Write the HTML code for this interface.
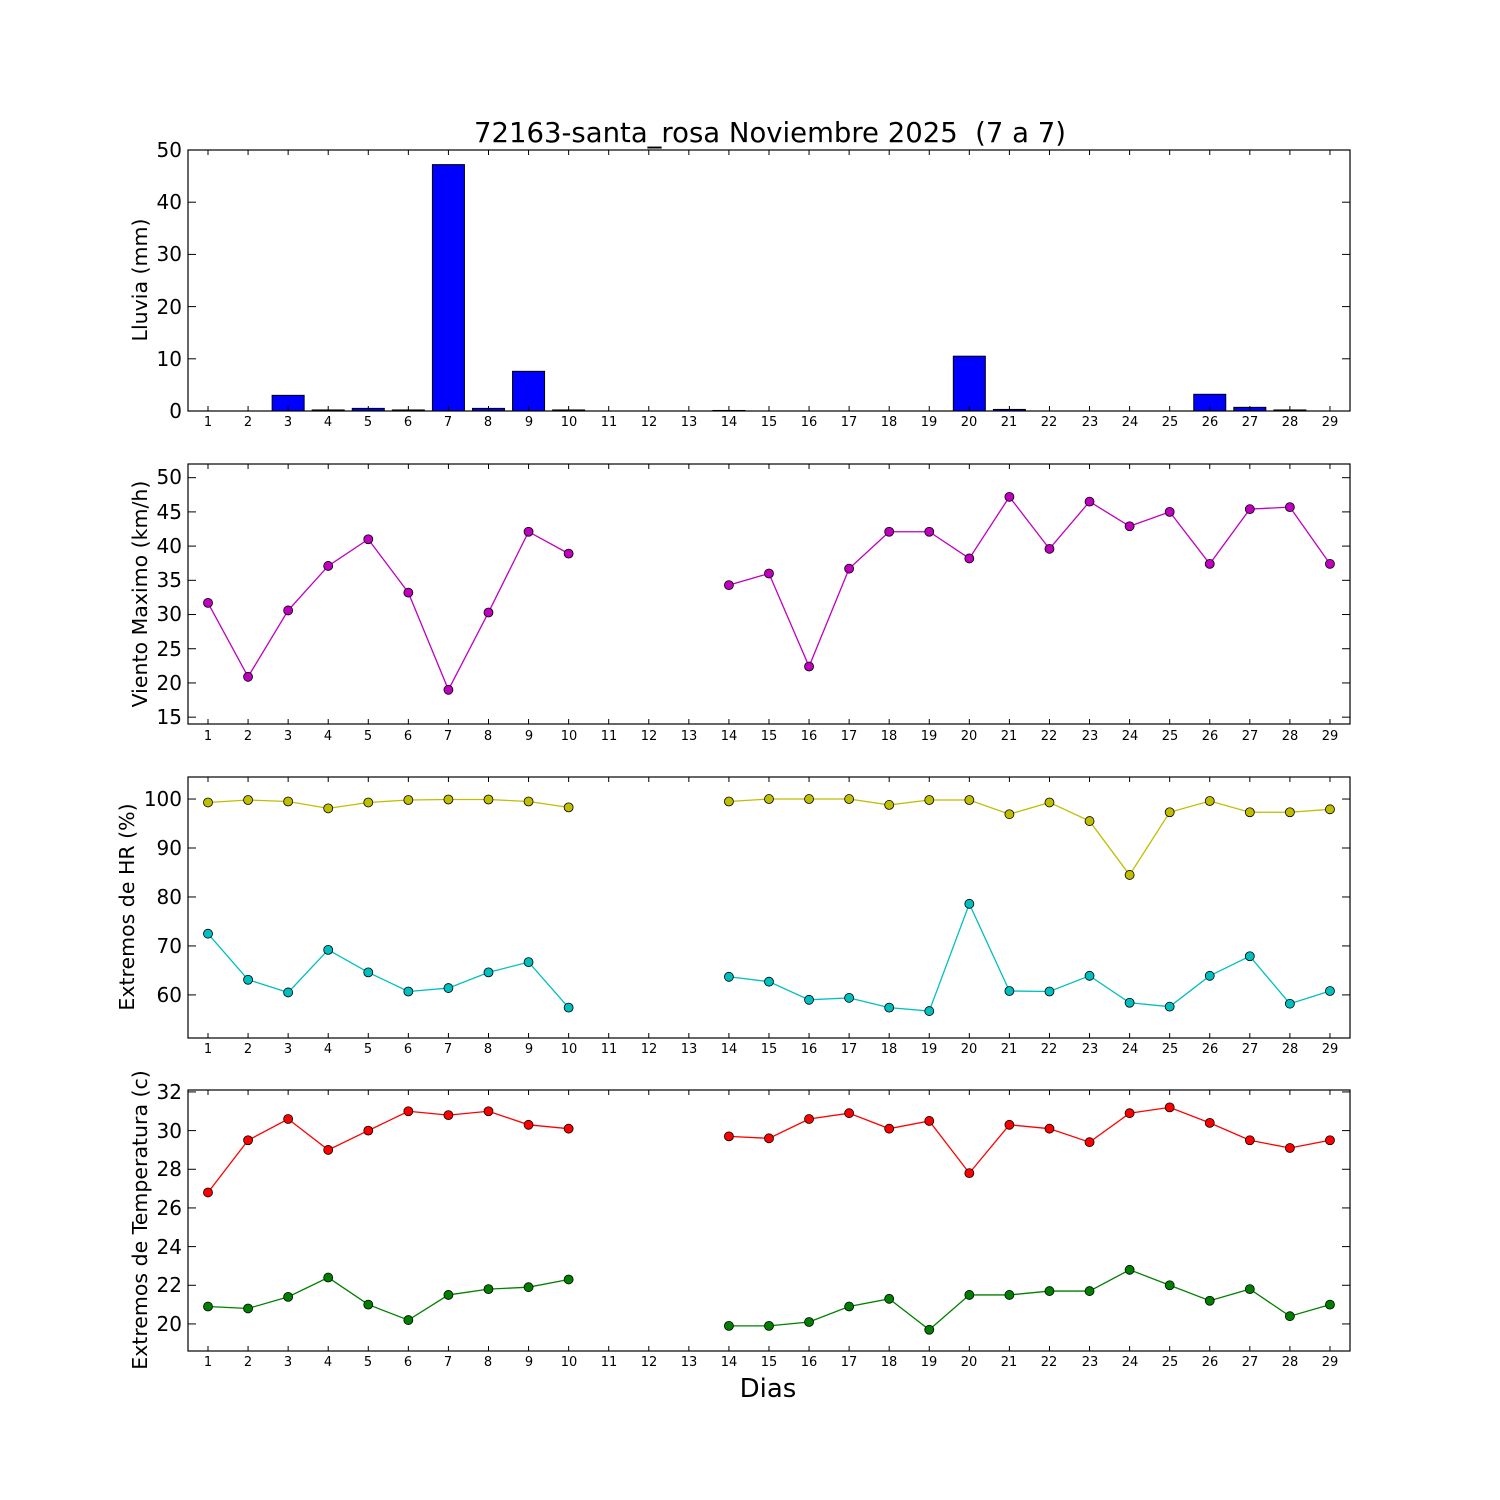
<!DOCTYPE html>
<html><head><meta charset="utf-8"><style>
body{margin:0;background:#fff}
svg{display:block;font-family:"DejaVu Sans","Liberation Sans",sans-serif}
</style></head><body>
<svg id="s" width="1500" height="1500" xmlns="http://www.w3.org/2000/svg">
<rect width="1500" height="1500" fill="#fff"/>
<text x="770" y="142" font-size="27.5" text-anchor="middle" xml:space="preserve">72163-santa_rosa Noviembre 2025&#160; (7 a 7)</text>
<text x="768" y="1397" font-size="26" text-anchor="middle">Dias</text>
<g font-size="20" text-anchor="end">
<text x="182" y="418">0</text><text x="182" y="366">10</text><text x="182" y="314">20</text><text x="182" y="261">30</text><text x="182" y="209">40</text><text x="182" y="157">50</text>
<text x="182" y="724">15</text><text x="182" y="690">20</text><text x="182" y="656">25</text><text x="182" y="621">30</text><text x="182" y="587">35</text><text x="182" y="553">40</text><text x="182" y="519">45</text><text x="182" y="484">50</text>
<text x="182" y="1002">60</text><text x="182" y="953">70</text><text x="182" y="904">80</text><text x="182" y="855">90</text><text x="182" y="806">100</text>
<text x="182" y="1331">20</text><text x="182" y="1292">22</text><text x="182" y="1254">24</text><text x="182" y="1215">26</text><text x="182" y="1176">28</text><text x="182" y="1138">30</text><text x="182" y="1099">32</text>
</g>
<g font-size="20.5" text-anchor="middle">
<text transform="translate(147,280) rotate(-90)">Lluvia (mm)</text>
<text transform="translate(147,594) rotate(-90)">Viento Maximo (km/h)</text>
<text transform="translate(134,907) rotate(-90)">Extremos de HR (%)</text>
<text transform="translate(147,1220) rotate(-90)">Extremos de Temperatura (c)</text>
</g>
<g id="g"></g>
</svg>
<script>
const NS="http://www.w3.org/2000/svg",g=document.getElementById('g');
function el(t,a){const e=document.createElementNS(NS,t);for(const k in a)e.setAttribute(k,a[k]);g.appendChild(e);return e;}
const X=d=>208+40.07*(d-1);
const P=[[150,411,0,50],[464,724,14,52],[777,1038,51.2,104.5],[1090,1351,18.6,32.1]];
const Y=(p,v)=>{const [t,b,lo,hi]=P[p];return b-(v-lo)/(hi-lo)*(b-t);};
const rain={3:3,4:0.2,5:0.5,6:0.2,7:47.2,8:0.5,9:7.6,10:0.2,14:0.1,20:10.5,21:0.3,26:3.2,27:0.7,28:0.2};
for(const d in rain){const y=Y(0,rain[d]);el('rect',{x:X(+d)-16,y:y,width:32,height:411-y,fill:'#0000ff',stroke:'#000','stroke-width':1});}
const days=[1,2,3,4,5,6,7,8,9,10,14,15,16,17,18,19,20,21,22,23,24,25,26,27,28,29];
function series(p,vals,col){
 const pts=days.map((d,i)=>[X(d),Y(p,vals[i])]);
 el('polyline',{points:pts.slice(0,10).join(' '),fill:'none',stroke:col,'stroke-width':1.3});
 el('polyline',{points:pts.slice(10).join(' '),fill:'none',stroke:col,'stroke-width':1.3});
 pts.forEach(q=>el('circle',{cx:q[0],cy:q[1],r:4.5,fill:col,stroke:'#000','stroke-width':0.8}));
}
series(1,[31.7,20.9,30.6,37.1,41,33.2,19,30.3,42.1,38.9,34.3,36,22.4,36.7,42.1,42.1,38.2,47.2,39.6,46.5,42.9,45,37.4,45.4,45.7,37.4],'#bf00bf');
series(2,[99.3,99.8,99.5,98.1,99.3,99.8,99.9,99.9,99.5,98.3,99.5,100,100,100,98.8,99.8,99.8,96.9,99.3,95.5,84.5,97.3,99.6,97.3,97.3,97.9],'#bfbf00');
series(2,[72.5,63.1,60.5,69.2,64.6,60.7,61.4,64.6,66.7,57.4,63.7,62.7,59,59.4,57.4,56.7,78.6,60.8,60.7,63.9,58.4,57.6,63.9,67.9,58.2,60.8],'#00bfbf');
series(3,[26.8,29.5,30.6,29,30,31,30.8,31,30.3,30.1,29.7,29.6,30.6,30.9,30.1,30.5,27.8,30.3,30.1,29.4,30.9,31.2,30.4,29.5,29.1,29.5],'#ff0000');
series(3,[20.9,20.8,21.4,22.4,21,20.2,21.5,21.8,21.9,22.3,19.9,19.9,20.1,20.9,21.3,19.7,21.5,21.5,21.7,21.7,22.8,22,21.2,21.8,20.4,21],'#008000');
const yt=[[0,10,20,30,40,50],[15,20,25,30,35,40,45,50],[60,70,80,90,100],[20,22,24,26,28,30,32]];
P.forEach((p,i)=>{
 el('rect',{x:188,y:p[0],width:1162,height:p[1]-p[0],fill:'none',stroke:'#000','stroke-width':1.2});
 for(let d=1;d<=29;d++){const x=X(d);el('line',{x1:x,x2:x,y1:p[1],y2:p[1]-5,stroke:'#000'});el('line',{x1:x,x2:x,y1:p[0],y2:p[0]+5,stroke:'#000'});}
 yt[i].forEach(v=>{const y=Y(i,v);el('line',{x1:188,x2:196,y1:y,y2:y,stroke:'#000'});el('line',{x1:1350,x2:1342,y1:y,y2:y,stroke:'#000'});});
});
</script>
<div style="position:absolute;left:0;top:0;width:1500px;height:1500px;pointer-events:none">
<svg width="1500" height="1500" style="font-family:'DejaVu Sans','Liberation Sans',sans-serif" font-size="13" text-anchor="middle">
<g transform="translate(0,426)"><text x="208">1</text><text x="248">2</text><text x="288">3</text><text x="328">4</text><text x="368">5</text><text x="408">6</text><text x="448">7</text><text x="488">8</text><text x="529">9</text><text x="569">10</text><text x="609">11</text><text x="649">12</text><text x="689">13</text><text x="729">14</text><text x="769">15</text><text x="809">16</text><text x="849">17</text><text x="889">18</text><text x="929">19</text><text x="969">20</text><text x="1009">21</text><text x="1049">22</text><text x="1090">23</text><text x="1130">24</text><text x="1170">25</text><text x="1210">26</text><text x="1250">27</text><text x="1290">28</text><text x="1330">29</text></g>
<g transform="translate(0,740)"><text x="208">1</text><text x="248">2</text><text x="288">3</text><text x="328">4</text><text x="368">5</text><text x="408">6</text><text x="448">7</text><text x="488">8</text><text x="529">9</text><text x="569">10</text><text x="609">11</text><text x="649">12</text><text x="689">13</text><text x="729">14</text><text x="769">15</text><text x="809">16</text><text x="849">17</text><text x="889">18</text><text x="929">19</text><text x="969">20</text><text x="1009">21</text><text x="1049">22</text><text x="1090">23</text><text x="1130">24</text><text x="1170">25</text><text x="1210">26</text><text x="1250">27</text><text x="1290">28</text><text x="1330">29</text></g>
<g transform="translate(0,1053)"><text x="208">1</text><text x="248">2</text><text x="288">3</text><text x="328">4</text><text x="368">5</text><text x="408">6</text><text x="448">7</text><text x="488">8</text><text x="529">9</text><text x="569">10</text><text x="609">11</text><text x="649">12</text><text x="689">13</text><text x="729">14</text><text x="769">15</text><text x="809">16</text><text x="849">17</text><text x="889">18</text><text x="929">19</text><text x="969">20</text><text x="1009">21</text><text x="1049">22</text><text x="1090">23</text><text x="1130">24</text><text x="1170">25</text><text x="1210">26</text><text x="1250">27</text><text x="1290">28</text><text x="1330">29</text></g>
<g transform="translate(0,1366)"><text x="208">1</text><text x="248">2</text><text x="288">3</text><text x="328">4</text><text x="368">5</text><text x="408">6</text><text x="448">7</text><text x="488">8</text><text x="529">9</text><text x="569">10</text><text x="609">11</text><text x="649">12</text><text x="689">13</text><text x="729">14</text><text x="769">15</text><text x="809">16</text><text x="849">17</text><text x="889">18</text><text x="929">19</text><text x="969">20</text><text x="1009">21</text><text x="1049">22</text><text x="1090">23</text><text x="1130">24</text><text x="1170">25</text><text x="1210">26</text><text x="1250">27</text><text x="1290">28</text><text x="1330">29</text></g>
</svg></div>
</body></html>
